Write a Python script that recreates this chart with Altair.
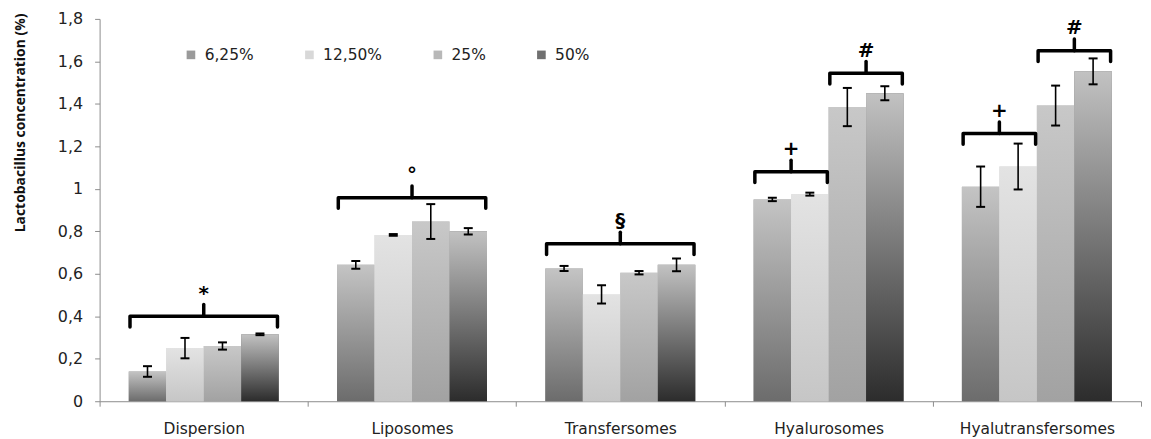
import json
import altair as alt
import pandas as pd

# ---------------- data ----------------
categories = ["Dispersion", "Liposomes", "Transfersomes", "Hyalurosomes", "Hyalutransfersomes"]
series = ["6,25%", "12,50%", "25%", "50%"]

v_625 = [0.14, 0.642, 0.625, 0.95, 1.01]
v_1250 = [0.25, 0.783, 0.503, 0.975, 1.105]
v_25 = [0.26, 0.846, 0.605, 1.385, 1.392]
v_50 = [0.315, 0.80, 0.642, 1.45, 1.553]

e_625 = [0.025, 0.018, 0.012, 0.008, 0.095]
e_1250 = [0.048, 0.004, 0.043, 0.007, 0.108]
e_25 = [0.017, 0.082, 0.008, 0.090, 0.094]
e_50 = [0.004, 0.015, 0.030, 0.033, 0.061]

y_ticks = [0, 0.2, 0.4, 0.6, 0.8, 1.0, 1.2, 1.4, 1.6, 1.8]

# significance brackets: category index, first series, last series, level, symbol
br_cat = [0, 1, 2, 3, 3, 4, 4]
br_from = [0, 0, 0, 0, 2, 0, 2]
br_to = [3, 3, 3, 1, 3, 1, 3]
br_level = [0.40, 0.958, 0.741, 1.08, 1.544, 1.26, 1.65]
br_symbol = ["*", "°", "§", "+", "#", "+", "#"]

# ---------------- styles ----------------
GROUP_START = 0.14
BAR_W = 0.18
DROP = 0.05
RISE = 0.055
FONT = "DejaVu Sans"
AXIS_GRAY = "#8c8c8c"

legend_colors = ["#9a9a9a", "#d8d8d8", "#b8b8b8", "#707070"]
gradients = [
    ("#c4c4c4", "#6c6c6c"),
    ("#e3e3e3", "#c6c6c6"),
    ("#c8c8c8", "#a2a2a2"),
    ("#c2c2c2", "#2c2c2c"),
]

# ---------------- tables ----------------
vals = [v_625, v_1250, v_25, v_50]
errs = [e_625, e_1250, e_25, e_50]
rows = []
for si, s in enumerate(series):
    for ci, c in enumerate(categories):
        left = ci + GROUP_START + si * BAR_W
        rows.append(dict(cat=c, series=s, si=si, x0=left, x1=left + BAR_W,
                         xc=left + BAR_W / 2, v=vals[si][ci],
                         lo=vals[si][ci] - errs[si][ci], hi=vals[si][ci] + errs[si][ci]))
bars = pd.DataFrame(rows)

line_rows, tip_rows = [], []
for b in range(len(br_cat)):
    left = br_cat[b] + GROUP_START + br_from[b] * BAR_W + 0.006
    right = br_cat[b] + GROUP_START + (br_to[b] + 1) * BAR_W - 0.006
    lv = br_level[b]
    for o, (x, y) in enumerate([(left, lv - DROP), (left, lv), (right, lv), (right, lv - DROP)]):
        line_rows.append(dict(b=b, o=o, x=x, y=y))
    tip_rows.append(dict(b=b, x=(left + right) / 2, y=lv, y2=lv + RISE, sym=br_symbol[b]))
blines = pd.DataFrame(line_rows)
btips = pd.DataFrame(tip_rows)

# ---------------- chart ----------------
label_expr = f"datum.value < {len(categories)} ? {json.dumps(categories)}[datum.value] : ''"
xscale = alt.Scale(domain=[0, len(categories)], nice=False, zero=False)
yscale = alt.Scale(domain=[0, 1.8], nice=False)

x_axis = alt.Axis(values=list(range(len(categories) + 1)), labelExpr=label_expr,
                  labelOffset=1046 / len(categories) / 2, labelFlush=False,
                  labelOverlap=False, labelBound=False, title=None, grid=False,
                  tickSize=5, labelPadding=15, domainColor=AXIS_GRAY, tickColor=AXIS_GRAY,
                  labelFont=FONT, labelFontSize=15.5, labelColor="#222")
y_axis = alt.Axis(values=y_ticks, labelExpr="replace(format(datum.value, '.1~f'), '.', ',')",
                  title="Lactobacillus concentration (%)", titleFont="Open Sans",
                  titleFontSize=14, titleFontWeight="bold", titleColor="#111",
                  titleX=-79, titleY=104, titleBaseline="middle", titleAlign="center",
                  grid=False, tickSize=5, labelPadding=12, domainColor=AXIS_GRAY,
                  tickColor=AXIS_GRAY, labelFont=FONT, labelFontSize=16, labelColor="#222")

base = alt.Chart(bars)

legend_bars = base.mark_bar().encode(
    x=alt.X("x0:Q", scale=xscale, axis=x_axis),
    x2="x1:Q",
    y=alt.Y("v:Q", scale=yscale, axis=y_axis),
    y2=alt.datum(0),
    color=alt.Color("series:N", sort=series,
                    scale=alt.Scale(domain=series, range=legend_colors),
                    legend=alt.Legend(title=None, orient="none", legendX=84, legendY=28,
                                      direction="horizontal", columns=4, columnPadding=48,
                                      symbolType="square", symbolSize=75, symbolStrokeWidth=0,
                                      labelFont=FONT, labelFontSize=15.5, labelColor="#222",
                                      labelOffset=6, padding=0)),
)

grad_layers = []
for si, s in enumerate(series):
    top, bottom = gradients[si]
    grad_layers.append(
        base.transform_filter(alt.datum.series == s).mark_bar(
            color=alt.Gradient(gradient="linear", x1=0, x2=0, y1=0, y2=1,
                               stops=[alt.GradientStop(color=top, offset=0),
                                      alt.GradientStop(color=bottom, offset=1)])
        ).encode(x="x0:Q", x2="x1:Q", y="v:Q", y2=alt.datum(0))
    )

err_rules = base.mark_rule(color="black", strokeWidth=1.6).encode(x="xc:Q", y="lo:Q", y2="hi:Q")
cap_lo = base.mark_tick(orient="horizontal", color="black", size=9, thickness=2, opacity=1).encode(x="xc:Q", y="lo:Q")
cap_hi = base.mark_tick(orient="horizontal", color="black", size=9, thickness=2, opacity=1).encode(x="xc:Q", y="hi:Q")

bracket_lines = alt.Chart(blines).mark_line(color="black", strokeWidth=3.5,
                                            strokeJoin="round", strokeCap="round").encode(
    x="x:Q", y="y:Q", detail="b:N", order="o:Q")
bracket_tips = alt.Chart(btips).mark_rule(color="black", strokeWidth=3.5, strokeCap="round").encode(
    x="x:Q", y="y:Q", y2="y2:Q")
bracket_syms = alt.Chart(btips).mark_text(color="black", font=FONT, fontSize=20, fontWeight="bold",
                                          baseline="bottom", dy=-1).encode(
    x="x:Q", y="y2:Q", text="sym:N")

chart = alt.layer(legend_bars, *grad_layers, err_rules, cap_lo, cap_hi,
                  bracket_lines, bracket_tips, bracket_syms).properties(
    width=1046, height=384,
    padding={"left": 92, "top": 10, "right": 2, "bottom": 40},
    autosize=alt.AutoSizeParams(type="none"),
).configure_view(stroke=None)

chart.save("out.html", embed_options={"renderer": "svg", "actions": False})
